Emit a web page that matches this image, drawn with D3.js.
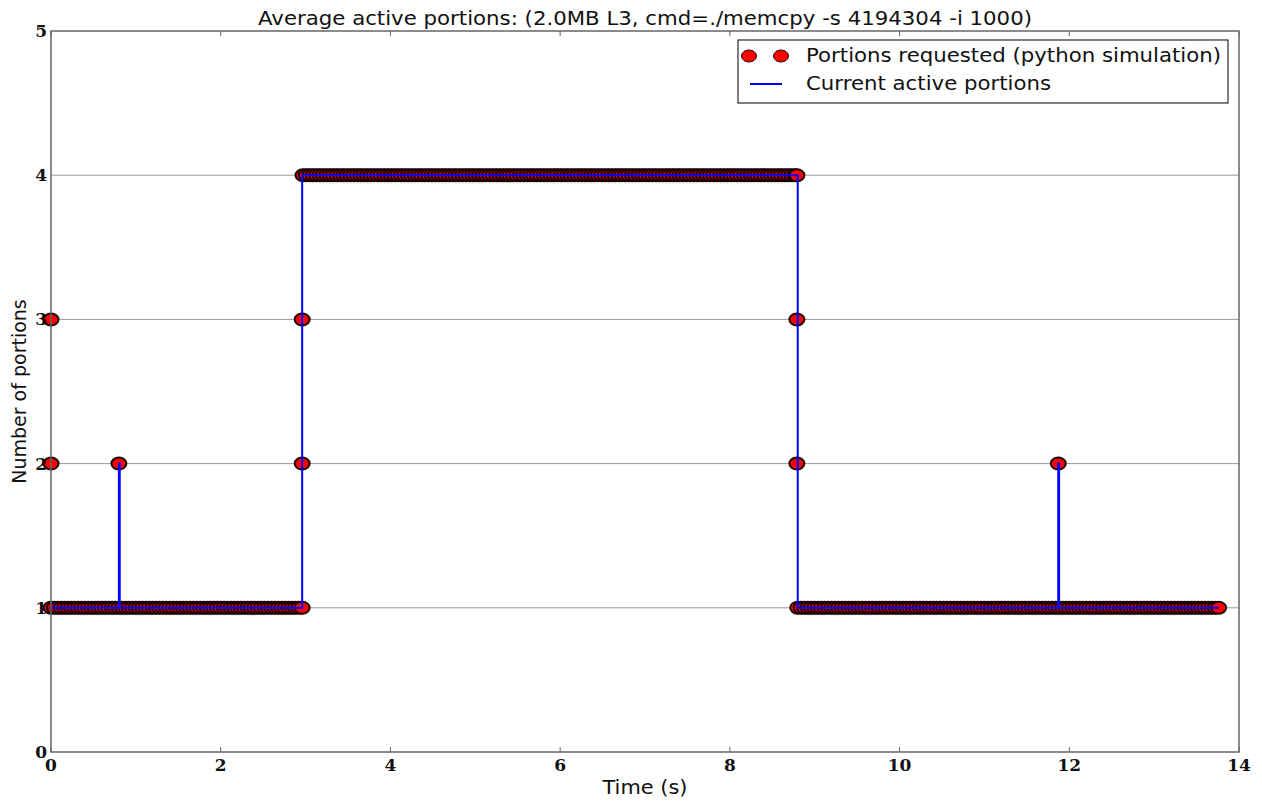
<!DOCTYPE html>
<html>
<head>
<meta charset="utf-8">
<script src="https://cdn.jsdelivr.net/npm/d3@7"></script>
<style>
  body { margin: 0; background: #fff; }
  svg { display: block; }
  .tick-label { font-family: "DejaVu Serif", serif; font-weight: bold; font-size: 17px; fill: #111; }
  .sans { font-family: "DejaVu Sans", sans-serif; fill: #111; }
</style>
</head>
<body>
<svg id="chart" width="1262" height="804"></svg>
<script>
// sample times, grouped by the level they request
const timesLevel1a = [0.00,0.04,0.08,0.12,0.16,0.20,0.24,0.28,0.32,0.36,0.40,0.44,0.48,0.52,0.56,0.60,0.64,0.68,0.72,0.76,0.80,0.84,0.88,0.92,0.96,
  1.00,1.04,1.08,1.12,1.16,1.20,1.24,1.28,1.32,1.36,1.40,1.44,1.48,1.52,1.56,1.60,1.64,1.68,1.72,1.76,1.80,1.84,1.88,1.92,1.96,
  2.00,2.04,2.08,2.12,2.16,2.20,2.24,2.28,2.32,2.36,2.40,2.44,2.48,2.52,2.56,2.60,2.64,2.68,2.72,2.76,2.80,2.84,2.88,2.92,2.96];
const timesLevel4 = [2.97,3.01,3.05,3.09,3.13,3.17,3.21,3.25,3.29,3.33,3.37,3.41,3.45,3.49,3.53,3.57,3.61,3.65,3.69,3.73,3.77,3.81,3.85,3.89,3.93,3.97,
  4.01,4.05,4.09,4.13,4.17,4.21,4.25,4.29,4.33,4.37,4.41,4.45,4.49,4.53,4.57,4.61,4.65,4.69,4.73,4.77,4.81,4.85,4.89,4.93,4.97,
  5.01,5.05,5.09,5.13,5.17,5.21,5.25,5.29,5.33,5.37,5.41,5.45,5.49,5.53,5.57,5.61,5.65,5.69,5.73,5.77,5.81,5.85,5.89,5.93,5.97,
  6.01,6.05,6.09,6.13,6.17,6.21,6.25,6.29,6.33,6.37,6.41,6.45,6.49,6.53,6.57,6.61,6.65,6.69,6.73,6.77,6.81,6.85,6.89,6.93,6.97,
  7.01,7.05,7.09,7.13,7.17,7.21,7.25,7.29,7.33,7.37,7.41,7.45,7.49,7.53,7.57,7.61,7.65,7.69,7.73,7.77,7.81,7.85,7.89,7.93,7.97,
  8.01,8.05,8.09,8.13,8.17,8.21,8.25,8.29,8.33,8.37,8.41,8.45,8.49,8.53,8.57,8.61,8.65,8.69,8.73,8.77,8.79];
const timesLevel1b = [8.80,8.84,8.88,8.92,8.96,
  9.00,9.04,9.08,9.12,9.16,9.20,9.24,9.28,9.32,9.36,9.40,9.44,9.48,9.52,9.56,9.60,9.64,9.68,9.72,9.76,9.80,9.84,9.88,9.92,9.96,
  10.00,10.04,10.08,10.12,10.16,10.20,10.24,10.28,10.32,10.36,10.40,10.44,10.48,10.52,10.56,10.60,10.64,10.68,10.72,10.76,10.80,10.84,10.88,10.92,10.96,
  11.00,11.04,11.08,11.12,11.16,11.20,11.24,11.28,11.32,11.36,11.40,11.44,11.48,11.52,11.56,11.60,11.64,11.68,11.72,11.76,11.80,11.84,11.88,11.92,11.96,
  12.00,12.04,12.08,12.12,12.16,12.20,12.24,12.28,12.32,12.36,12.40,12.44,12.48,12.52,12.56,12.60,12.64,12.68,12.72,12.76,12.80,12.84,12.88,12.92,12.96,
  13.00,13.04,13.08,13.12,13.16,13.20,13.24,13.28,13.32,13.36,13.40,13.44,13.48,13.52,13.56,13.60,13.64,13.68,13.72,13.76];
// single requests off the runs: [time, portions]
const extraRequests = [[0, 3], [0, 2], [0.80, 2], [2.96, 2], [2.96, 3], [8.79, 3], [8.79, 2], [11.87, 2]];

// current active portions (step line)
const activeTimes = [0, 0.80, 0.81, 2.96, 8.80, 11.87, 11.88, 13.76];
const activeValues = [1, 2, 1, 4, 1, 2, 1, 1];

const xTicks = [0, 2, 4, 6, 8, 10, 12, 14];
const yTicks = [0, 1, 2, 3, 4, 5];

const margin = { top: 31, right: 23, bottom: 52, left: 51 };
const width = 1262, height = 804;
const innerWidth = width - margin.left - margin.right;
const innerHeight = height - margin.top - margin.bottom;

const svg = d3.select("#chart");
const g = svg.append("g").attr("transform", `translate(${margin.left},${margin.top})`);

const x = d3.scaleLinear().domain([0, 14]).range([0, innerWidth]);
const y = d3.scaleLinear().domain([0, 5]).range([innerHeight, 0]);

// grid
g.selectAll(".grid")
  .data(yTicks.filter(d => d > 0 && d < 5))
  .join("line")
  .attr("x1", 0).attr("x2", innerWidth)
  .attr("y1", d => y(d)).attr("y2", d => y(d))
  .attr("stroke", "#999").attr("stroke-width", 1);

// requests, in time order
const requests = [];
timesLevel1a.forEach(t => requests.push([t, 1]));
timesLevel4.forEach(t => requests.push([t, 4]));
timesLevel1b.forEach(t => requests.push([t, 1]));
extraRequests.forEach(d => requests.push(d));
const ordered = requests.map((d, i) => ({ t: d[0], v: d[1], i }))
  .sort((a, b) => a.t - b.t || a.i - b.i);

g.selectAll(".req")
  .data(ordered)
  .join("ellipse")
  .attr("cx", d => x(d.t))
  .attr("cy", d => y(d.v))
  .attr("rx", 7.5).attr("ry", 6)
  .attr("fill", "#ff0000")
  .attr("stroke", "#1a0000")
  .attr("stroke-width", 2);

// active portions line
const activeData = activeTimes.map((t, i) => [t, activeValues[i]]);
g.append("path")
  .datum(activeData)
  .attr("d", d3.line().x(d => x(d[0])).y(d => y(d[1])).curve(d3.curveStepAfter))
  .attr("fill", "none")
  .attr("stroke", "#0000ff")
  .attr("stroke-width", 2);

// frame + ticks
g.append("rect")
  .attr("width", innerWidth).attr("height", innerHeight)
  .attr("fill", "none").attr("stroke", "#666").attr("stroke-width", 1.5);

g.selectAll(".xt-b").data(xTicks).join("line")
  .attr("x1", d => x(d)).attr("x2", d => x(d))
  .attr("y1", innerHeight).attr("y2", innerHeight - 5)
  .attr("stroke", "#666");
g.selectAll(".xt-t").data(xTicks).join("line")
  .attr("x1", d => x(d)).attr("x2", d => x(d))
  .attr("y1", 0).attr("y2", 5)
  .attr("stroke", "#666");

g.selectAll(".xl").data(xTicks).join("text")
  .attr("class", "tick-label")
  .attr("x", d => x(d)).attr("y", innerHeight + 19)
  .attr("text-anchor", "middle")
  .text(d => d);

g.selectAll(".yl").data(yTicks).join("text")
  .attr("class", "tick-label")
  .attr("x", -4).attr("y", d => y(d) + 6)
  .attr("text-anchor", "end")
  .text(d => d);

// titles (reference is stretched a little horizontally)
svg.append("text").attr("class", "sans")
  .attr("x", 645).attr("y", 25)
  .attr("text-anchor", "middle").attr("font-size", 19)
  .attr("textLength", 774).attr("lengthAdjust", "spacingAndGlyphs")
  .text("Average active portions: (2.0MB L3, cmd=./memcpy -s 4194304 -i 1000)");

svg.append("text").attr("class", "sans")
  .attr("x", 645).attr("y", 794)
  .attr("text-anchor", "middle").attr("font-size", 19)
  .attr("textLength", 85).attr("lengthAdjust", "spacingAndGlyphs")
  .text("Time (s)");

svg.append("text").attr("class", "sans")
  .attr("transform", `translate(26,${margin.top + innerHeight / 2}) rotate(-90)`)
  .attr("text-anchor", "middle").attr("font-size", 19)
  .text("Number of portions");

// legend
const legend = svg.append("g").attr("transform", "translate(738,40)");
legend.append("rect")
  .attr("width", 490).attr("height", 63)
  .attr("fill", "#fff").attr("stroke", "#000").attr("stroke-width", 1);
legend.selectAll(".ld").data([11, 43]).join("ellipse")
  .attr("cx", d => d).attr("cy", 16)
  .attr("rx", 7.5).attr("ry", 6)
  .attr("fill", "#ff0000").attr("stroke", "#1a0000").attr("stroke-width", 1);
legend.append("line")
  .attr("x1", 12).attr("x2", 44).attr("y1", 44).attr("y2", 44)
  .attr("stroke", "#0000ff").attr("stroke-width", 2);
legend.append("text").attr("class", "sans")
  .attr("x", 68).attr("y", 22).attr("font-size", 19)
  .attr("textLength", 415).attr("lengthAdjust", "spacingAndGlyphs")
  .text("Portions requested (python simulation)");
legend.append("text").attr("class", "sans")
  .attr("x", 68).attr("y", 50).attr("font-size", 19)
  .attr("textLength", 245).attr("lengthAdjust", "spacingAndGlyphs")
  .text("Current active portions");
</script>
</body>
</html>
